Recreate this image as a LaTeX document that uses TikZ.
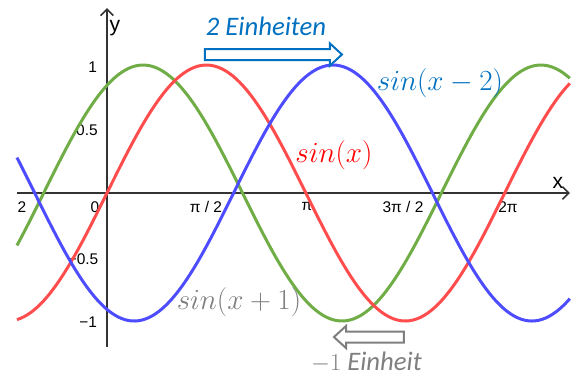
\documentclass[tikz,border=0pt]{standalone}
\usepackage{fontspec}
\setmainfont{Liberation Sans}
\newfontfamily\calfont{Carlito}
\usetikzlibrary{arrows.meta,shapes.arrows}
\definecolor{curveblue}{RGB}{77,77,255}
\definecolor{curvered}{RGB}{255,77,77}
\definecolor{curvegreen}{RGB}{112,173,71}
\definecolor{textblue}{HTML}{0070C0}
\definecolor{textgray}{HTML}{7F7F7F}
\tikzset{
  axisline/.style={line width=0.04cm, black!80, -{Straight Barb[length=0.16cm, width=0.32cm]}},
  curve/.style={line width=0.075cm, smooth, samples=160, domain=-1.422:7.314},
  ticklabel/.style={font=\fontsize{11}{13}\selectfont, inner sep=1pt},
  funclabel/.style={font=\fontsize{19.5}{22}\selectfont, inner sep=0pt},
  shifttext/.style={font=\calfont\itshape\fontsize{19}{22}\selectfont, inner sep=0pt},
  shiftarrow/.style={single arrow, draw=#1, fill=white, line width=0.05cm,
    inner xsep=0pt, inner ysep=0.1125cm, text height=0pt, text depth=0pt,
    single arrow head extend=0.14cm, single arrow tip angle=85},
}

\begin{document}
\begin{tikzpicture}[x=1.5825cm, y=3.2cm]
  \useasboundingbox (-1.690,-1.4297) rectangle (7.504,1.508);

  % Axes
  \coordinate (xstart) at (-1.422, 0);
  \coordinate (xend) at (7.314, 0);
  \coordinate (ystart) at (0, -1.203);
  \coordinate (yend) at (0, 1.445);
  \draw[axisline] (xstart) -- (xend);
  \draw[axisline] (ystart) -- (yend);
  \node[font=\fontsize{15}{17}\selectfont] (ylabel) at (0.126, 1.289) {y};
  \node[font=\fontsize{15}{17}\selectfont] (xlabel) at (7.125, 0.078) {x};

  % Tick labels
  \node[ticklabel, anchor=east] (y1) at (-0.13, 0.984) {1};
  \node[ticklabel, anchor=east] (y05) at (-0.12, 0.492) {0.5};
  \node[ticklabel, anchor=east] (ym05) at (-0.11, -0.516) {−0.5};
  \node[ticklabel, anchor=east] (ym1) at (-0.13, -1.008) {−1};
  \node[ticklabel] (xm1) at (-1.343, -0.109) {2};
  \node[ticklabel] (x0) at (-0.19, -0.109) {0};
  \node[ticklabel] (x1) at (1.564, -0.109) {π / 2};
  \node[ticklabel] (x2) at (3.16, -0.109) {π};
  \node[ticklabel] (x3) at (4.676, -0.109) {3π / 2};
  \node[ticklabel] (x4) at (6.335, -0.109) {2π};

  % Curves
  \draw[curve, curvegreen] plot (\x, {sin((\x+1) r)});
  \draw[curve, curvered] plot (\x, {sin(\x r)});
  \draw[curve, curveblue] plot (\x, {sin((\x-2) r)});

  % Function labels
  \node[funclabel, textblue] (fblue) at (5.26, 0.859) {$sin(x-2)$};
  \node[funclabel, red] (fred) at (3.586, 0.297) {$sin(x)$};
  \node[funclabel, textgray] (fgreen) at (2.085, -0.852) {$sin(x+1)$};

  % Shift arrows
  \node[shiftarrow=textblue, minimum height=3.425cm] (shiftright) at (2.583, 1.082) {};
  \node[shifttext, textblue] (shiftrighttext) at (2.512, 1.305) {2 Einheiten};
  \node[shiftarrow=textgray, minimum height=1.75cm, shape border rotate=180] (shiftleft) at (4.186, -1.125) {};
  \node[shifttext, textgray] (shiftlefttext) at (4.10, -1.320) {$-1$ Einheit};
\end{tikzpicture}
\end{document}
